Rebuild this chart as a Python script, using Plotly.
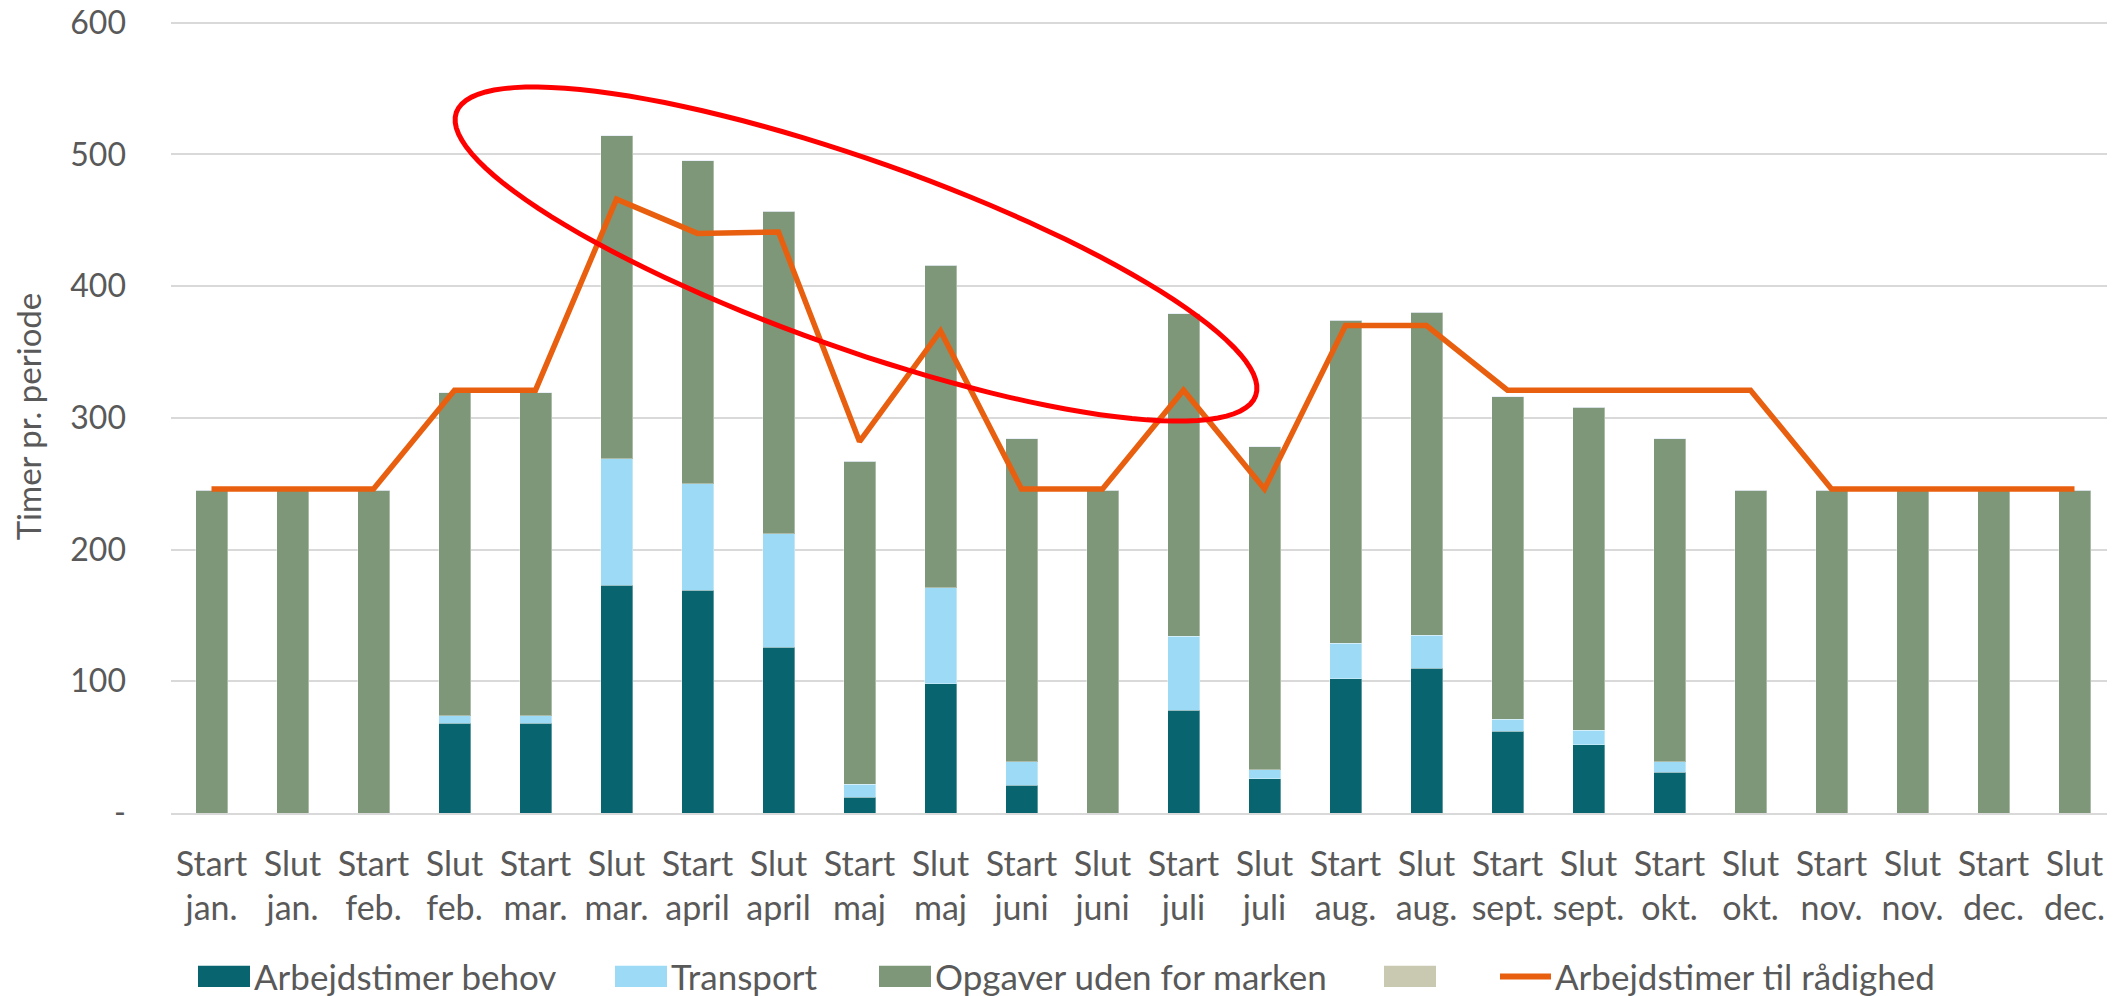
import numpy as np
import plotly.graph_objects as go

# ---------------- data ----------------
phases = ["Start", "Slut"] * 12
months = ["jan.", "jan.", "feb.", "feb.", "mar.", "mar.", "april", "april",
          "maj", "maj", "juni", "juni", "juli", "juli", "aug.", "aug.",
          "sept.", "sept.", "okt.", "okt.", "nov.", "nov.", "dec.", "dec."]
categories = [f"{p} {m}" for p, m in zip(phases, months)]

arbejdstimer_behov = [0, 0, 0, 68, 68, 173, 169, 126, 12, 98, 21, 0,
                      78, 26, 102, 110, 62, 52, 31, 0, 0, 0, 0, 0]
transport = [0, 0, 0, 6, 6, 96, 81, 86, 10, 73, 18, 0,
             56, 7, 27, 25, 9, 11, 8, 0, 0, 0, 0, 0]
opgaver_uden_for_marken = [245] * 24
ukendt_serie = [0] * 24
arbejdstimer_til_raadighed = [246, 246, 246, 321, 321, 466, 440, 441, 282, 366, 246, 246,
                              321, 246, 370, 370, 321, 321, 321, 321, 246, 246, 246, 246]

y_tickvals = [0, 100, 200, 300, 400, 500, 600]
y_ticktext = ["-", "100", "200", "300", "400", "500", "600"]

legend_labels = ["Arbejdstimer behov", "Transport", "Opgaver uden for marken", "",
                 "Arbejdstimer til rådighed"]

# ---------------- style ----------------
C_BEHOV = "#08646F"
C_TRANSPORT = "#9DDAF5"
C_OPGAVER = "#7E9778"
C_GREY = "#C9C8B1"
C_LINE = "#E8600F"
C_RED = "#FF0000"
TXT = "#595959"
FONT = "Lato"

OFF = 8                      # default page margin of the html body
Y_TOP = 602                  # axis top (slightly above 600 so the top gridline shows)
W, H = 2115 - OFF, 996 - OFF
ML = 171 - OFF
PLOT_BOTTOM = 812.7 - OFF
PX_PER_UNIT = (812.7 - 22.7) / 600
MT = PLOT_BOTTOM - Y_TOP * PX_PER_UNIT
MR = 0
MB = H - PLOT_BOTTOM
PW, PH = W - ML - MR, H - MT - MB

fig = go.Figure()
bar_line = dict(color="rgba(255,255,255,0.35)", width=1)
fig.add_trace(go.Bar(x=categories, y=arbejdstimer_behov, name=legend_labels[0],
                     marker=dict(color=C_BEHOV, line=bar_line), showlegend=False))
fig.add_trace(go.Bar(x=categories, y=transport, name=legend_labels[1],
                     marker=dict(color=C_TRANSPORT, line=bar_line), showlegend=False))
fig.add_trace(go.Bar(x=categories, y=opgaver_uden_for_marken, name=legend_labels[2],
                     marker=dict(color=C_OPGAVER, line=bar_line), showlegend=False))
fig.add_trace(go.Bar(x=categories, y=ukendt_serie, name=" ",
                     marker=dict(color=C_GREY), showlegend=False))
fig.add_trace(go.Scatter(x=categories, y=arbejdstimer_til_raadighed, name=legend_labels[4],
                         mode="lines", line=dict(color=C_LINE, width=5.5),
                         showlegend=False))
# helper (draws nothing) so the month axis row is rendered
fig.add_trace(go.Scatter(x=list(range(len(months))), y=arbejdstimer_til_raadighed,
                         xaxis="x2", mode="none", hoverinfo="skip", showlegend=False))


def px_x(v):  # page pixel -> paper
    return (v - OFF - ML) / PW


def px_y(v):
    return (MT + PH - (v - OFF)) / PH


# ---------------- highlight ellipse (annotation) ----------------
cx, cy, a, b, theta = 856, 254, 424, 94, np.deg2rad(19.5)
t = np.linspace(0, 2 * np.pi, 121)
ex = cx + a * np.cos(theta) * np.cos(t) - b * np.sin(theta) * np.sin(t)
ey = cy + a * np.sin(theta) * np.cos(t) + b * np.cos(theta) * np.sin(t)
path = "M " + " L ".join(f"{px_x(x):.5f},{px_y(y):.5f}" for x, y in zip(ex, ey)) + " Z"

shapes = [dict(type="path", path=path, xref="paper", yref="paper",
               line=dict(color=C_RED, width=5), layer="above")]

# ---------------- custom legend ----------------
leg_y = 976
annotations = []
swatches = [(198, C_BEHOV, legend_labels[0]), (615, C_TRANSPORT, legend_labels[1]),
            (879, C_OPGAVER, legend_labels[2]), (1384, C_GREY, legend_labels[3])]
for x0, col, lab in swatches:
    shapes.append(dict(type="rect", xref="paper", yref="paper",
                       x0=px_x(x0), x1=px_x(x0 + 52), y0=px_y(leg_y + 10.5), y1=px_y(leg_y - 10.5),
                       fillcolor=col, line=dict(width=0)))
    if lab:
        annotations.append(dict(x=px_x(x0 + 56), y=px_y(leg_y), xref="paper", yref="paper",
                                text=lab, showarrow=False, xanchor="left", yanchor="middle",
                                xshift=-2, font=dict(family=FONT, size=35, color=TXT)))
shapes.append(dict(type="line", xref="paper", yref="paper",
                   x0=px_x(1500), x1=px_x(1551), y0=px_y(leg_y), y1=px_y(leg_y),
                   line=dict(color=C_LINE, width=6)))
annotations.append(dict(x=px_x(1555), y=px_y(leg_y), xref="paper", yref="paper",
                        text=legend_labels[4], showarrow=False, xanchor="left", yanchor="middle",
                        xshift=-2, font=dict(family=FONT, size=35, color=TXT)))

fig.update_layout(
    width=W, height=H,
    margin=dict(l=ML, r=MR, t=MT, b=MB, autoexpand=False),
    paper_bgcolor="white", plot_bgcolor="white",
    barmode="stack", bargap=0.605,
    showlegend=False,
    font=dict(family=FONT, color=TXT),
    shapes=shapes, annotations=annotations,
    xaxis=dict(type="category", range=[-0.5, 23.5], showgrid=False,
               showline=True, linecolor="#D9D9D9", linewidth=2,
               tickmode="array", tickvals=categories, ticktext=phases,
               ticks="", tickfont=dict(family=FONT, size=34, color=TXT),
               ticklabelstandoff=20, tickangle=0, automargin=False),
    xaxis2=dict(overlaying="x", anchor="y", side="bottom", type="linear",
                range=[-0.5, 23.5], showgrid=False, showline=False, zeroline=False,
                tickmode="array", tickvals=list(range(len(months))), ticktext=months,
                ticks="", tickfont=dict(family=FONT, size=34, color=TXT),
                ticklabelstandoff=72, tickangle=0, automargin=False),
    yaxis=dict(range=[0, Y_TOP], tickvals=y_tickvals, ticktext=y_ticktext,
               showgrid=True, gridcolor="#D9D9D9", gridwidth=2,
               zeroline=False, showline=False, ticks="",
               tickfont=dict(family=FONT, size=32, color=TXT),
               ticklabelstandoff=44, ticklabeloverflow="allow", automargin=False,
               title=dict(text="Timer pr. periode", standoff=22,
                          font=dict(family=FONT, size=33, color=TXT))),
)

fig.write_html("out.html")
